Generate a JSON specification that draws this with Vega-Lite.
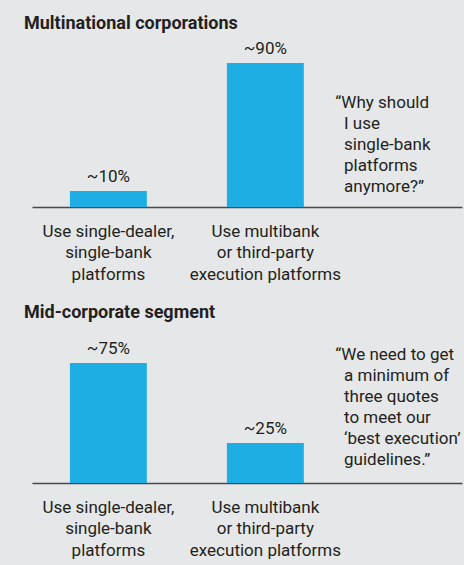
{
  "$schema": "https://vega.github.io/schema/vega-lite/v6.json",
  "background": "#e6e7e8",
  "padding": {"left": 24, "top": 15, "right": 2, "bottom": 8},
  "spacing": 22,
  "config": {
    "font": "Roboto",
    "view": {"stroke": null},
    "title": {"font": "Roboto", "fontSize": 18, "fontWeight": "bold", "color": "#231f20", "anchor": "start", "frame": "group"},
    "axisX": {"title": null, "domain": true, "domainColor": "#4a4a4a", "domainWidth": 1.5, "ticks": false, "grid": false, "labelAngle": 0, "labelFont": "Roboto", "labelFontSize": 17, "labelColor": "#231f20", "labelLineHeight": 21.5, "labelPadding": 16, "labelOverlap": false, "labelBound": false, "labelLimit": 300},
    "text": {"font": "Roboto", "fontSize": 17, "color": "#231f20"}
  },
  "vconcat": [
    {
      "title": {"text": "Multinational corporations", "dx": -8, "offset": 7},
      "width": 430,
      "height": 160,
      "data": {"values": [
        {"category": "Use single-dealer, single-bank platforms", "share": 10, "label": "~10%"},
        {"category": "Use multibank or third-party execution platforms", "share": 90, "label": "~90%"},
        {"category": "quote", "quote": "“Why should\n\u200b\u2002I use\n\u200b\u2002single-bank\n\u200b\u2002platforms\n\u200b\u2002anymore?”"}
      ]},
      "encoding": {
        "x": {"field": "category", "type": "nominal", "sort": null,
          "scale": {"domain": ["Use single-dealer, single-bank platforms", "Use multibank or third-party execution platforms", "quote"], "paddingInner": 0.51, "paddingOuter": 0.1245, "align": 0.97},
          "axis": {"labelExpr": "datum.value == 'Use single-dealer, single-bank platforms' ? ['Use single-dealer,', 'single-bank', 'platforms'] : datum.value == 'Use multibank or third-party execution platforms' ? ['Use multibank', 'or third-party', 'execution platforms'] : ''"}}
      },
      "layer": [
        {"transform": [{"filter": "datum.category != 'quote'"}], "mark": {"type": "bar", "color": "#1eaee4"},
         "encoding": {"y": {"field": "share", "type": "quantitative", "scale": {"domain": [0, 100]}, "axis": null}}},
        {"transform": [{"filter": "datum.category != 'quote'"}], "mark": {"type": "text", "baseline": "alphabetic", "dy": -9},
         "encoding": {"y": {"field": "share", "type": "quantitative"}, "text": {"field": "label"}}},
        {
          "transform": [{"filter": "datum.category == 'quote'"}],
          "mark": {"type": "text", "align": "left", "baseline": "alphabetic", "lineBreak": "\n", "lineHeight": 21, "dx": -87},
          "encoding": {
            "y": {"datum": 61.9, "type": "quantitative"},
            "text": {"field": "quote"}
          }
        }
      ]
    },
    {
      "title": {"text": "Mid-corporate segment", "dx": -8, "offset": 1},
      "width": 430,
      "height": 160,
      "data": {"values": [
        {"category": "Use single-dealer, single-bank platforms", "share": 75, "label": "~75%"},
        {"category": "Use multibank or third-party execution platforms", "share": 25, "label": "~25%"},
        {"category": "quote", "quote": "“We need to get\n\u200b\u2002a minimum of\n\u200b\u2002three quotes\n\u200b\u2002to meet our\n\u200b\u2002‘best execution’\n\u200b\u2002guidelines.”"}
      ]},
      "encoding": {
        "x": {"field": "category", "type": "nominal", "sort": null,
          "scale": {"domain": ["Use single-dealer, single-bank platforms", "Use multibank or third-party execution platforms", "quote"], "paddingInner": 0.51, "paddingOuter": 0.1245, "align": 0.97},
          "axis": {"labelExpr": "datum.value == 'Use single-dealer, single-bank platforms' ? ['Use single-dealer,', 'single-bank', 'platforms'] : datum.value == 'Use multibank or third-party execution platforms' ? ['Use multibank', 'or third-party', 'execution platforms'] : ''"}}
      },
      "layer": [
        {"transform": [{"filter": "datum.category != 'quote'"}], "mark": {"type": "bar", "color": "#1eaee4"},
         "encoding": {"y": {"field": "share", "type": "quantitative", "scale": {"domain": [0, 100]}, "axis": null}}},
        {"transform": [{"filter": "datum.category != 'quote'"}], "mark": {"type": "text", "baseline": "alphabetic", "dy": -9},
         "encoding": {"y": {"field": "share", "type": "quantitative"}, "text": {"field": "label"}}},
        {
          "transform": [{"filter": "datum.category == 'quote'"}],
          "mark": {"type": "text", "align": "left", "baseline": "alphabetic", "lineBreak": "\n", "lineHeight": 21, "dx": -87},
          "encoding": {
            "y": {"datum": 77, "type": "quantitative"},
            "text": {"field": "quote"}
          }
        }
      ]
    }
  ]
}
